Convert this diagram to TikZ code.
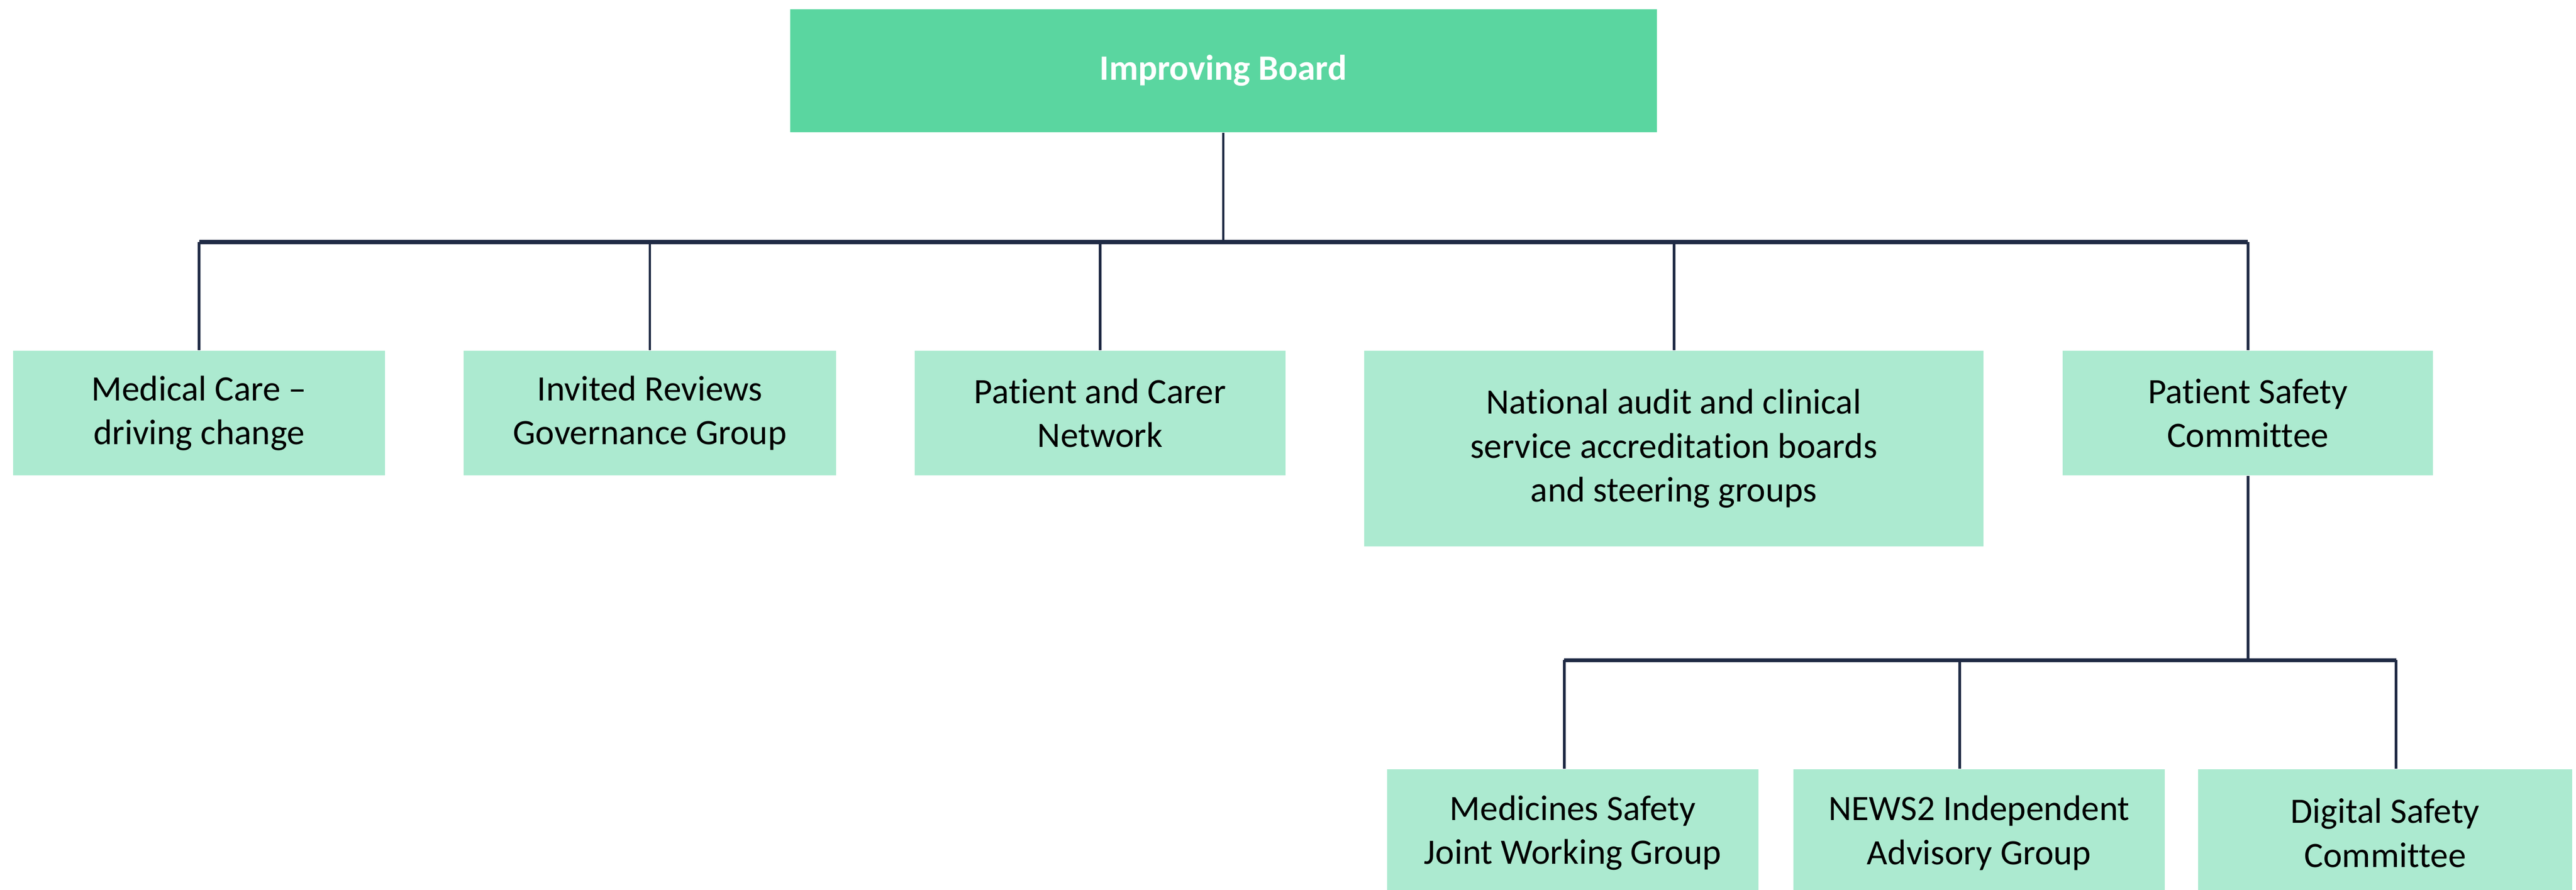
\documentclass[tikz,border=0pt]{standalone}
\usepackage{fontspec}
\setmainfont{Carlito}[Ligatures={TeX,NoCommon}]
\definecolor{boardgreen}{HTML}{5AD6A0}
\definecolor{groupgreen}{HTML}{ACEAD0}
\definecolor{linenavy}{HTML}{1F2A44}
\begin{document}
\begin{tikzpicture}[scale=1,
  group/.style={fill=groupgreen, inner sep=0pt, minimum height=2.28cm, align=center, font=\fontsize{18.6}{22.8}\selectfont},
  link/.style={draw=linenavy, line width=1.4pt},
  busline/.style={draw=linenavy, line width=2pt}]

\useasboundingbox (0,0) rectangle (47.17,-16.28);

% Draw the board
\node[fill=boardgreen, inner sep=0pt, minimum width=15.87cm, minimum height=2.25cm, text=white, font=\fontsize{18.6}{22.8}\selectfont\bfseries] (board) at (22.40,-1.295) {Improving Board};

% Draw the groups reporting to the board
\node[group, minimum width=6.81cm] (care) at (3.645,-7.56) {Medical Care –\\driving change};
\node[group, minimum width=6.82cm] (reviews) at (11.90,-7.56) {Invited Reviews\\Governance Group};
\node[group, minimum width=6.79cm] (carers) at (20.145,-7.56) {Patient and Carer\\Network};
\node[group, minimum width=11.34cm, minimum height=3.58cm] (audit) at (30.65,-8.21) {National audit and clinical\\service accreditation boards\\and steering groups};
\node[group, minimum width=6.78cm] (safety) at (41.16,-7.56) {Patient Safety\\Committee};

% Draw the groups reporting to the safety committee
\node[group, minimum width=6.80cm, minimum height=2.33cm] (medicines) at (28.80,-15.245) {Medicines Safety\\Joint Working Group};
\node[group, minimum width=6.80cm, minimum height=2.33cm] (news) at (36.24,-15.245) {NEWS2 Independent\\Advisory Group};
\node[group, minimum width=6.85cm, minimum height=2.33cm] (digital) at (43.675,-15.245) {Digital Safety\\Committee};

% Draw the connectors
\coordinate (bus) at (22.40,-4.43);
\coordinate (subbus) at (41.16,-12.08);
\draw[link] (board.south) -- (bus);
\draw[busline] (care.north |- bus) -- (safety.north |- bus);
\foreach \n in {care,reviews,carers,audit,safety}
  \draw[link] (\n.north |- bus) -- (\n.north);

\coordinate (medtop) at ([xshift=-0.16cm]medicines.north);
\coordinate (newstop) at ([xshift=-0.36cm]news.north);
\coordinate (digtop) at ([xshift=0.20cm]digital.north);
\draw[link] (safety.south) -- (subbus);
\draw[busline] (medtop |- subbus) -- (digtop |- subbus);
\foreach \n in {medtop,newstop,digtop}
  \draw[link] (\n |- subbus) -- (\n);
\end{tikzpicture}
\end{document}
